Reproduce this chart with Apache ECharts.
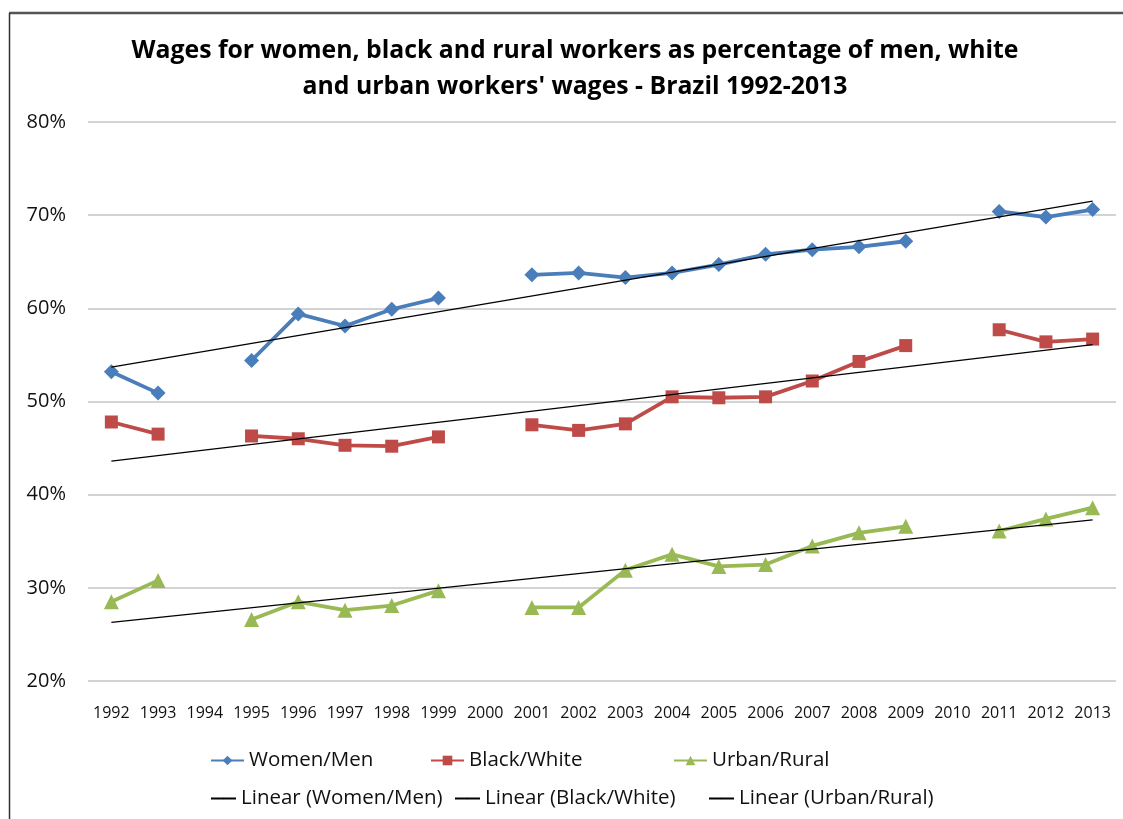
<!DOCTYPE html>
<html>
<head>
<meta charset="utf-8">
<script src="https://cdn.jsdelivr.net/npm/echarts@6/dist/echarts.min.js"></script>
<style>
  html, body { margin: 0; padding: 0; background: #fff; }
  #chart { width: 1123px; height: 819px; }
</style>
</head>
<body>
<div id="chart"></div>
<script>
// Wage ratios (%) by year; null marks years without a survey
const years = ['1992','1993','1994','1995','1996','1997','1998','1999','2000','2001','2002',
               '2003','2004','2005','2006','2007','2008','2009','2010','2011','2012','2013'];

const womenMen = [53.2, 50.9, null, 54.4, 59.4, 58.1, 59.9, 61.1, null, 63.6, 63.8,
                  63.3, 63.8, 64.7, 65.8, 66.3, 66.6, 67.2, null, 70.4, 69.8, 70.6];

const blackWhite = [47.8, 46.5, null, 46.3, 46.0, 45.3, 45.2, 46.2, null, 47.5, 46.9,
                    47.6, 50.5, 50.4, 50.5, 52.2, 54.3, 56.0, null, 57.7, 56.4, 56.7];

const urbanRural = [28.5, 30.8, null, 26.6, 28.5, 27.6, 28.1, 29.7, null, 27.9, 27.9,
                    31.9, 33.6, 32.3, 32.5, 34.5, 35.9, 36.6, null, 36.1, 37.4, 38.6];

// Linear trend lines: values at the first (1992) and last (2013) year
const trendWomenMen = [53.7, 71.5];
const trendBlackWhite = [43.6, 56.1];
const trendUrbanRural = [26.3, 37.3];

const yTicks = [20, 30, 40, 50, 60, 70, 80];

const FONT = '"Open Sans", sans-serif';

function trendData(ends) {
  const d = years.map(() => null);
  d[0] = ends[0];
  d[d.length - 1] = ends[1];
  return d;
}

function dataSeries(name, data, color, symbol, size) {
  return {
    name, type: 'line', data, connectNulls: false,
    symbol, symbolSize: size, showSymbol: true,
    lineStyle: { color, width: 3.8 },
    itemStyle: { color },
    emphasis: { disabled: true },
    animation: false, z: 2
  };
}

function trendSeries(name, ends) {
  return {
    name, type: 'line', data: trendData(ends), connectNulls: true,
    symbol: 'none',
    lineStyle: { color: '#000', width: 1.3 },
    itemStyle: { color: '#000' },
    emphasis: { disabled: true },
    animation: false, z: 3
  };
}

const legendText = { fontFamily: FONT, fontSize: 20.5, color: '#111' };
function legendAt(name, left, top, withMarker) {
  return {
    data: [name], left, top, orient: 'horizontal',
    itemWidth: withMarker ? 33 : 25, itemHeight: withMarker ? 12 : 2, itemGap: 0,
    textStyle: legendText, padding: 0, selectedMode: false
  };
}

const chart = echarts.init(document.getElementById('chart'), null, { renderer: 'canvas' });
chart.setOption({
  backgroundColor: '#fff',
  animation: false,
  title: {
    text: "Wages for women, black and rural workers as percentage of men, white\nand urban workers' wages - Brazil 1992-2013",
    left: 570, top: 28, textAlign: 'center',
    textStyle: { fontFamily: FONT, fontSize: 24.8, fontWeight: 'bold', color: '#000', lineHeight: 36 }
  },
  graphic: [
    { type: 'line', shape: { x1: 9, y1: 13, x2: 1123, y2: 13 }, style: { stroke: '#555', lineWidth: 2.5 }, silent: true },
    { type: 'line', shape: { x1: 9.5, y1: 13, x2: 9.5, y2: 819 }, style: { stroke: '#333', lineWidth: 1.5 }, silent: true }
  ],
  grid: { left: 88, right: 7, top: 122, bottom: 138, containLabel: false },
  xAxis: {
    type: 'category', data: years, boundaryGap: true,
    axisLine: { show: false }, axisTick: { show: false },
    axisLabel: { fontFamily: FONT, fontSize: 16, color: '#111', margin: 24, interval: 0 }
  },
  yAxis: {
    type: 'value', min: yTicks[0], max: yTicks[yTicks.length - 1], interval: 10,
    axisLine: { show: false }, axisTick: { show: false },
    axisLabel: { fontFamily: FONT, fontSize: 20, color: '#111', margin: 22, formatter: v => v + '%' },
    splitLine: { lineStyle: { color: '#c4c4c4', width: 1.5 } }
  },
  legend: [
    legendAt('Women/Men', 210, 750, true),
    legendAt('Black/White', 430, 750, true),
    legendAt('Urban/Rural', 673, 750, true),
    legendAt('Linear (Women/Men)', 210, 788, false),
    legendAt('Linear (Black/White)', 454, 788, false),
    legendAt('Linear (Urban/Rural)', 708, 788, false)
  ],
  series: [
    dataSeries('Women/Men', womenMen, '#4a7ebb', 'diamond', 15),
    dataSeries('Black/White', blackWhite, '#be4b48', 'rect', 13),
    dataSeries('Urban/Rural', urbanRural, '#98b954', 'triangle', 15),
    trendSeries('Linear (Women/Men)', trendWomenMen),
    trendSeries('Linear (Black/White)', trendBlackWhite),
    trendSeries('Linear (Urban/Rural)', trendUrbanRural)
  ]
});
</script>
</body>
</html>
